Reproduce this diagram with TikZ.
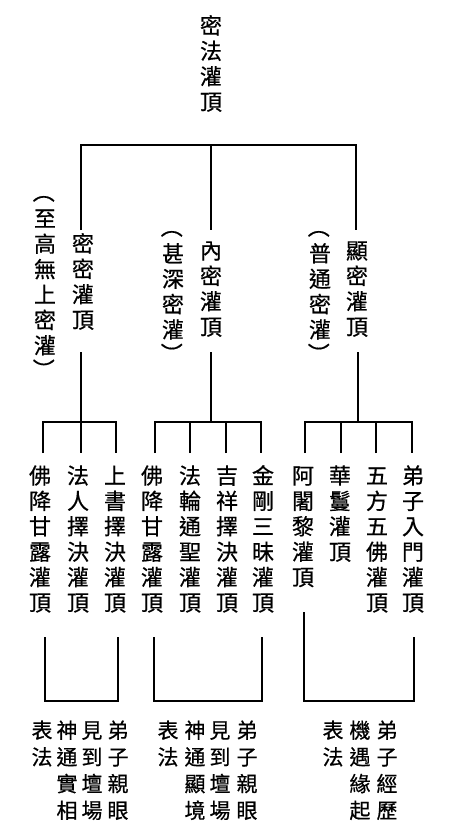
\documentclass[tikz,border=0pt]{standalone}
\usepackage{fontspec}
\usepackage{graphicx}
\newfontfamily\cjk{Noto Sans CJK TC}[FakeBold=0.6]
\XeTeXuseglyphmetrics=0
\newcommand\tightrows{\lineskiplimit=-100pt\relax}
\newcommand\vop{\rotatebox[origin=c]{-90}{（}\vphantom{至}}
\newcommand\vcl{\rotatebox[origin=c]{-90}{）}\vphantom{至}}
\tikzset{
v/.style={
  font=\cjk\fontsize{22}{25.4}\selectfont\tightrows,
  align=center,
  inner sep=0pt,
  anchor=north
  },
w/.style={
  v,
  font=\cjk\fontsize{21}{26.7}\selectfont\tightrows
  }
}

\begin{document}
\begin{tikzpicture}[x=1pt,y=-1pt,line width=1.6pt]
\useasboundingbox (0,0) rectangle (450,839);
\node[v] (0) at (211,7.5) {密\\法\\灌\\頂};
\node[v] (1) at (83,225.5) {密\\密\\灌\\頂};
\node[v] (2) at (211,232.5) {內\\密\\灌\\頂};
\node[v] (3) at (357,232.5) {顯\\密\\灌\\頂};
\node[v] (1n) at (45,175) {\vop\\至\\高\\無\\上\\密\\灌\\\vcl};
\node[v] (2n) at (173,210) {\vop\\甚\\深\\密\\灌\\\vcl};
\node[v] (3n) at (320,210) {\vop\\普\\通\\密\\灌\\\vcl};
\node[v] (11) at (40,457.5) {佛\\降\\甘\\露\\灌\\頂};
\node[v] (12) at (78,457.5) {法\\人\\擇\\決\\灌\\頂};
\node[v] (13) at (115,457.5) {上\\書\\擇\\決\\灌\\頂};
\node[v] (21) at (152,457.5) {佛\\降\\甘\\露\\灌\\頂};
\node[v] (22) at (190,457.5) {法\\輪\\通\\聖\\灌\\頂};
\node[v] (23) at (227,457.5) {吉\\祥\\擇\\決\\灌\\頂};
\node[v] (24) at (263,457.5) {金\\剛\\三\\昧\\灌\\頂};
\node[v] (31) at (303,457.5) {阿\\闍\\黎\\灌\\頂};
\node[v] (32) at (340,457.5) {華\\鬘\\灌\\頂};
\node[v] (33) at (377,457.5) {五\\方\\五\\佛\\灌\\頂};
\node[v] (34) at (413,457.5) {弟\\子\\入\\門\\灌\\頂};
\node[w] (1k4) at (118,713) {弟\\子\\親\\眼};
\node[w] (1k3) at (92,713) {見\\到\\壇\\場};
\node[w] (1k2) at (67,713) {神\\通\\實\\相};
\node[w] (1k1) at (42,713) {表\\法};
\node[w] (2k4) at (247,713) {弟\\子\\親\\眼};
\node[w] (2k3) at (220,713) {見\\到\\壇\\場};
\node[w] (2k2) at (195,713) {神\\通\\顯\\境};
\node[w] (2k1) at (168,713) {表\\法};
\node[w] (3k3) at (387,713) {弟\\子\\經\\歷};
\node[w] (3k2) at (360,713) {機\\遇\\緣\\起};
\node[w] (3k1) at (333,713) {表\\法};
% junctions
\coordinate (j0) at (211,145);
\coordinate (1t) at (81,230);
\coordinate (2t) at (211,230);
\coordinate (3t) at (356,230);
\coordinate (1b) at (81,352);
\coordinate (2b) at (211,352);
\coordinate (3b) at (358,352);
\coordinate (j1) at (81,422);
\coordinate (j2) at (211,422);
\coordinate (j3) at (358,422);
\coordinate (11t) at (43,453);
\coordinate (12t) at (81,453);
\coordinate (13t) at (116,453);
\coordinate (21t) at (155,453);
\coordinate (22t) at (190,453);
\coordinate (23t) at (226,453);
\coordinate (24t) at (261,453);
\coordinate (31t) at (305,453);
\coordinate (32t) at (341,453);
\coordinate (33t) at (376,453);
\coordinate (34t) at (412,453);
\coordinate (11u) at (45,637);
\coordinate (13u) at (118,637);
\coordinate (21u) at (154,637);
\coordinate (24u) at (262,637);
\coordinate (31u) at (304,612);
\coordinate (34u) at (414,637);
\coordinate (k1) at (81,701);
\coordinate (k2) at (208,701);
\coordinate (k3) at (358,701);
\draw (1t) |- (j0) -| (3t);
\draw (j0) -- (2t);
\draw (1b) -- (j1);
\draw (2b) -- (j2);
\draw (3b) -- (j3);
\draw (11t) |- (j1) -| (13t);
\draw (j1) -- (12t);
\draw (21t) |- (j2) -| (24t);
\draw (22t) -- (22t |- j2);
\draw (23t) -- (23t |- j2);
\draw (31t) |- (j3) -| (34t);
\draw (32t) -- (32t |- j3);
\draw (33t) -- (33t |- j3);
\draw (11u) |- (k1) -| (13u);
\draw (21u) |- (k2) -| (24u);
\draw (31u) |- (k3) -| (34u);
\end{tikzpicture}
\end{document}
